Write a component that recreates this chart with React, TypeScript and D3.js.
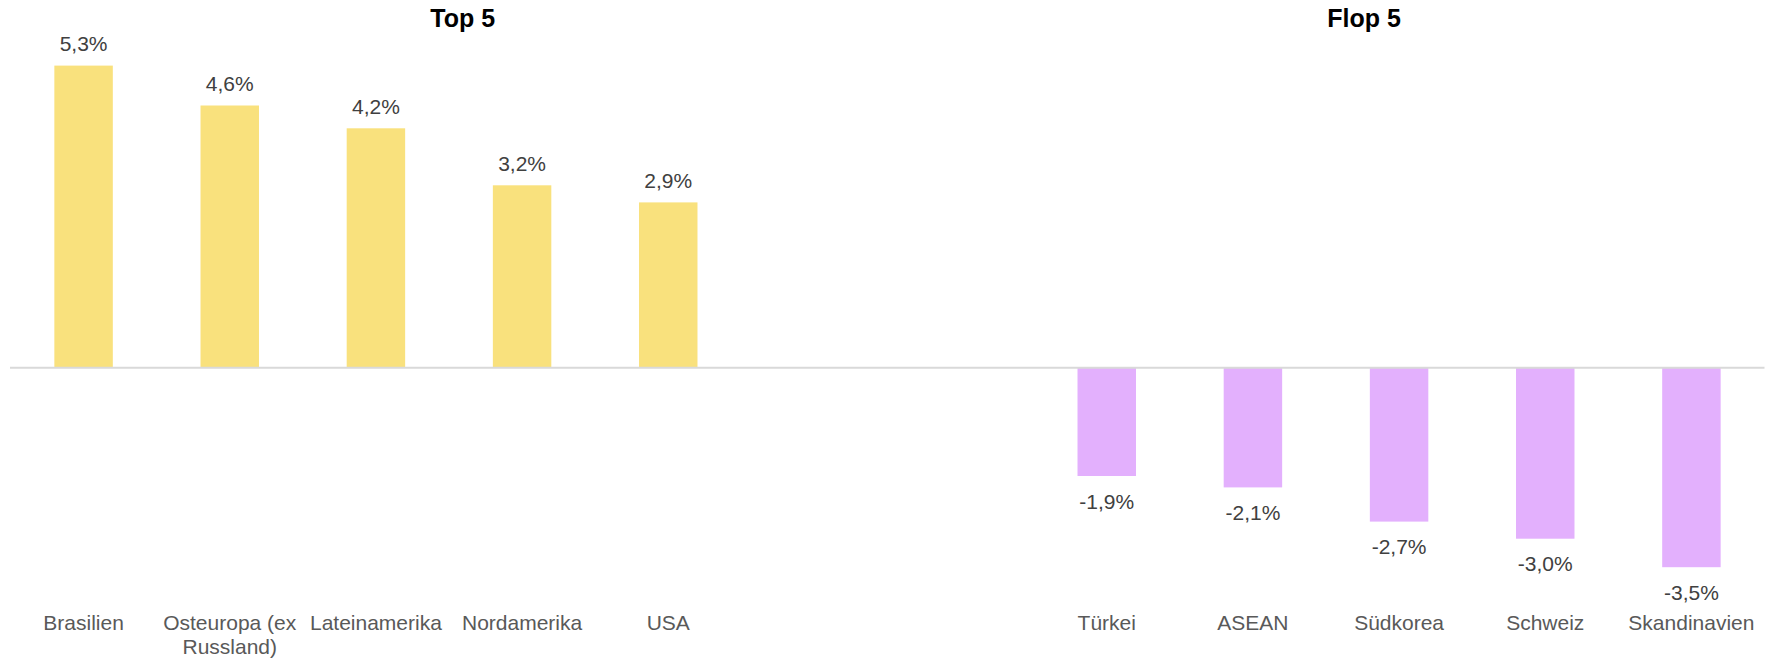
import React from "react";
import * as d3 from "d3";

const categories: string[] = [
  "Brasilien",
  "Osteuropa (ex Russland)",
  "Lateinamerika",
  "Nordamerika",
  "USA",
  "",
  "",
  "Türkei",
  "ASEAN",
  "Südkorea",
  "Schweiz",
  "Skandinavien",
];
const values: (number | null)[] = [5.3, 4.6, 4.2, 3.2, 2.9, null, null, -1.9, -2.1, -2.7, -3.0, -3.5];
const titles: string[] = ["Top 5", "Flop 5"];
const yDomain: [number, number] = [-4, 6];

const W = 1771;
const H = 658;
const FONT = "'Liberation Sans', Arial, Helvetica, sans-serif";
const LABEL_SIZE = 21;

function measure(text: string, size: number): number {
  if (typeof document === "undefined") return text.length * size * 0.5;
  const c = document.createElement("canvas");
  const ctx = c.getContext("2d");
  if (!ctx) return text.length * size * 0.5;
  ctx.font = `${size}px ${FONT}`;
  return ctx.measureText(text).width;
}

function wrap(text: string, maxW: number, size: number): string[] {
  const words = text.split(" ").filter((w) => w.length);
  const lines: string[] = [];
  let cur = "";
  for (const w of words) {
    const t = cur ? cur + " " + w : w;
    if (cur && measure(t, size) > maxW) {
      lines.push(cur);
      cur = w;
    } else cur = t;
  }
  if (cur) lines.push(cur);
  return lines;
}

export default function App() {
  const idx = categories.map((_, i) => String(i));
  const x = d3
    .scaleBand<string>()
    .domain(idx)
    .range([10.5, 1764.5])
    .paddingInner(0.6)
    .paddingOuter(0.3);
  const y = d3.scaleLinear().domain(yDomain).range([595.7, 25.7]);
  const step = x.step();
  const bw = x.bandwidth();
  const y0 = y(0);

  return (
    <svg
      width={W}
      height={H}
      style={{ position: "absolute", left: 0, top: 0, display: "block", background: "#fff" }}
      fontFamily={FONT}
    >
      <text x={462.7} y={27.3} textAnchor="middle" fontSize={25} fontWeight="bold" fill="#000">
        {titles[0]}
      </text>
      <text x={1364} y={27.3} textAnchor="middle" fontSize={25} fontWeight="bold" fill="#000">
        {titles[1]}
      </text>

      {values.map((v, i) => {
        if (v === null) return null;
        const x0 = x(String(i)) as number;
        const top = Math.min(y(v), y0);
        const h = Math.abs(y(v) - y0);
        return (
          <rect key={"b" + i} x={x0} y={top} width={bw} height={h} fill={v >= 0 ? "#F9E17D" : "#E3B0FD"} />
        );
      })}

      <line x1={10} x2={1764.5} y1={y0} y2={y0} stroke="#D9D9D9" strokeWidth={2} />

      {values.map((v, i) => {
        if (v === null) return null;
        const cx = (x(String(i)) as number) + bw / 2;
        const ty = v >= 0 ? y(v) - 14.3 : y(v) + 32.6;
        const label = v.toFixed(1).replace(".", ",") + "%";
        return (
          <text key={"v" + i} x={cx} y={ty} textAnchor="middle" fontSize={LABEL_SIZE} fill="#404040">
            {label}
          </text>
        );
      })}

      {categories.map((c, i) => {
        if (!c) return null;
        const cx = (x(String(i)) as number) + bw / 2;
        const lines = wrap(c, step - 6, LABEL_SIZE);
        return (
          <text key={"c" + i} x={cx} y={630} textAnchor="middle" fontSize={LABEL_SIZE} fill="#595959">
            {lines.map((l, j) => (
              <tspan key={j} x={cx} dy={j === 0 ? 0 : 24}>
                {l}
              </tspan>
            ))}
          </text>
        );
      })}
    </svg>
  );
}
